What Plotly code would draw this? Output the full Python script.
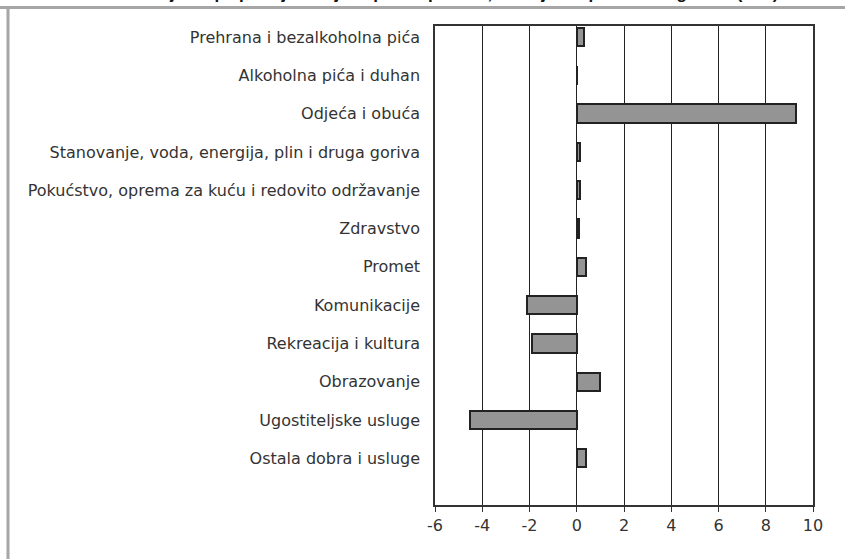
import plotly.graph_objects as go

categories = [
    "Prehrana i bezalkoholna pića",
    "Alkoholna pića i duhan",
    "Odjeća i obuća",
    "Stanovanje, voda, energija, plin i druga goriva",
    "Pokućstvo, oprema za kuću i redovito održavanje",
    "Zdravstvo",
    "Promet",
    "Komunikacije",
    "Rekreacija i kultura",
    "Obrazovanje",
    "Ugostiteljske usluge",
    "Ostala dobra i usluge",
]
values = [0.3, 0.0, 9.3, 0.15, 0.15, 0.1, 0.4, -2.1, -1.9, 1.0, -4.5, 0.4]
x_ticks = [-6, -4, -2, 0, 2, 4, 6, 8, 10]
title_text = "Grafikon 6: Godišnje stope promjene cijena po skupinama, isti mjesec prethodne godine (u %)"

W, H = 845, 559
L, R, T, B = 435, 32, 26, 54
pw, ph = W - L - R, H - T - B

def px_x(p):
    return (p - L) / pw

def px_y(p):
    return 1 - (p - T) / ph

pos = list(range(len(categories)))

FONT = "DejaVu Sans, Liberation Sans, Arial, sans-serif"

fig = go.Figure()
fig.add_trace(go.Bar(
    x=values, y=pos, orientation="h", width=0.48,
    marker=dict(color="#949494", line=dict(color="#222222", width=2)),
    hoverinfo="x+text", text=categories, textposition="none",
))

fig.update_layout(
    width=W, height=H,
    margin=dict(l=L, r=R, t=T, b=B),
    paper_bgcolor="white", plot_bgcolor="white",
    showlegend=False,
    font=dict(family=FONT, size=16, color="#333333"),
    bargap=0,
)
fig.update_xaxes(
    range=[-6, 10], tickvals=x_ticks, ticktext=[str(v) for v in x_ticks],
    showgrid=True, gridcolor="#222222", gridwidth=1.2,
    showline=True, linecolor="#333333", linewidth=1.5, mirror=True,
    ticks="outside", ticklen=5, tickcolor="#333333", tickwidth=1.2,
    zeroline=False, tickfont=dict(family=FONT, size=16, color="#333333"),
)
fig.update_yaxes(
    range=[12.22, -0.29], tickvals=pos, ticktext=categories,
    showgrid=False, zeroline=False,
    showline=True, linecolor="#333333", linewidth=1.5, mirror=True,
    ticks="", ticklabelstandoff=10, tickfont=dict(family=FONT, size=16, color="#333333"),
)

# outer frame lines (gray)
fig.add_shape(type="line", xref="paper", yref="paper",
              x0=px_x(0), x1=px_x(W), y0=px_y(7.5), y1=px_y(7.5),
              line=dict(color="#a6a6a6", width=3))
fig.add_shape(type="line", xref="paper", yref="paper",
              x0=px_x(8), x1=px_x(8), y0=px_y(7.5), y1=px_y(H + 5),
              line=dict(color="#a6a6a6", width=3))

fig.add_annotation(
    text="<b>" + title_text + "</b>", xref="paper", yref="paper",
    x=px_x(15), y=px_y(5.5), xanchor="left", yanchor="bottom",
    showarrow=False, font=dict(family="Liberation Sans, Arial, sans-serif", size=17, color="#111111"),
)

fig.write_html("out.html", config={"displayModeBar": False},
               post_script="document.body.style.margin='0';")
